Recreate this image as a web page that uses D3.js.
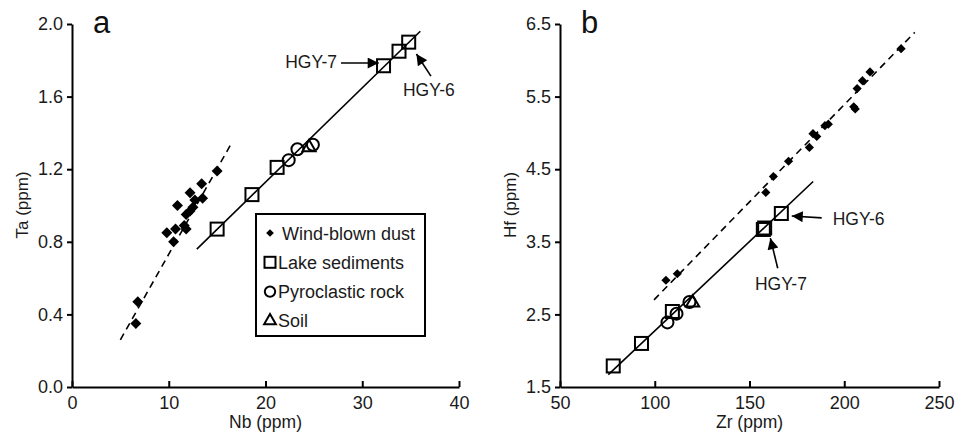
<!DOCTYPE html>
<html><head><meta charset="utf-8">
<script src="https://cdn.jsdelivr.net/npm/d3@7"></script>
<style>
body{margin:0;background:#fff;}
svg{display:block;font-family:"Liberation Sans",Arial,Helvetica,sans-serif;}
.axis{font-family:"Liberation Sans",Arial,Helvetica,sans-serif;}
.axis path,.axis line{stroke:#000;stroke-width:2;}
.axis text{font-size:18px;fill:#1a1a1a;}
</style></head>
<body><svg id="chart" width="955" height="439"></svg>
<script>
// ---------- Panel a: Nb vs Ta ----------
const dustNbA = [6.6, 6.8, 9.8, 10.5, 10.7, 10.9, 11.6, 11.8, 11.8, 12.2, 12.5, 12.2, 12.7, 13.5, 13.4, 15.0];
const dustTaA = [0.35, 0.47, 0.85, 0.80, 0.87, 1.00, 0.89, 0.87, 0.95, 0.97, 0.99, 1.07, 1.03, 1.04, 1.12, 1.19];
const lakeNbA = [15.0, 18.6, 21.2, 32.2, 33.8, 34.8];
const lakeTaA = [0.87, 1.06, 1.21, 1.77, 1.85, 1.90];
const pyroNbA = [22.4, 23.3, 24.9];
const pyroTaA = [1.25, 1.31, 1.335];
const soilNbA = [24.5];
const soilTaA = [1.32];
const dustFitA = [[5.0, 0.26], [16.4, 1.335]];
const lakeFitA = [[12.9, 0.76], [36.0, 1.96]];
const xTicksA = [0, 10, 20, 30, 40];
const yTicksA = [0.0, 0.4, 0.8, 1.2, 1.6, 2.0];

// ---------- Panel b: Zr vs Hf ----------
const dustZrB = [105.9, 111.9, 158.6, 162.6, 170.6, 181.6, 183.5, 185.5, 189.8, 191.6, 205.0, 205.8, 206.8, 209.6, 213.6, 230.0];
const dustHfB = [2.97, 3.06, 4.18, 4.40, 4.61, 4.80, 4.99, 4.95, 5.10, 5.12, 5.36, 5.33, 5.61, 5.72, 5.84, 6.16];
const lakeZrB = [78.1, 93.0, 109.3, 157.3, 158.0, 166.8];
const lakeHfB = [1.79, 2.10, 2.54, 3.67, 3.69, 3.89];
const pyroZrB = [106.7, 111.5, 118.3];
const pyroHfB = [2.39, 2.51, 2.67];
const soilZrB = [120.0];
const soilHfB = [2.66];
const dustFitB = [[99.6, 2.70], [237.2, 6.385]];
const lakeFitB = [[75.5, 1.67], [183.6, 4.33]];
const xTicksB = [50, 100, 150, 200, 250];
const yTicksB = [1.5, 2.5, 3.5, 4.5, 5.5, 6.5];

// legend
const legendLabels = ["Wind-blown dust", "Lake sediments", "Pyroclastic rock", "Soil"];
const legendShapes = ["diamond", "square", "circle", "triangle"];

// annotations (data units): text position, arrow tail, arrow tip
const annotA = [
  {label: "HGY-7", anchor: "end",   tx: 27.4, ty: 1.755, x1: 27.8, y1: 1.785, x2: 31.7, y2: 1.785},
  {label: "HGY-6", anchor: "start", tx: 34.2, ty: 1.603, x1: 37.1, y1: 1.713, x2: 35.6, y2: 1.835}
];
const annotB = [
  {label: "HGY-6", anchor: "start", tx: 193.9, ty: 3.73,  x1: 188.1, y1: 3.83,  x2: 172.3, y2: 3.855},
  {label: "HGY-7", anchor: "start", tx: 152.9, ty: 2.836, x1: 164.9, y1: 3.135, x2: 161.0, y2: 3.55}
];

const svg = d3.select("#chart");
const defs = svg.append("defs");
defs.append("marker").attr("id","arrow").attr("viewBox","0 0 10 10")
  .attr("refX",10).attr("refY",5).attr("markerWidth",13).attr("markerHeight",11)
  .attr("markerUnits","userSpaceOnUse").attr("orient","auto")
  .append("path").attr("d","M0,0 L10,5 L0,10 Z").attr("fill","#000");

const zip = (xs, ys) => xs.map((x, i) => [x, ys[i]]);
const diamondPath = size => d3.symbol().type(d3.symbolSquare).size(size)();

function drawPanel(cfg) {
  const g = svg.append("g");
  const x = d3.scaleLinear().domain(cfg.xDomain).range(cfg.xRange);
  const y = d3.scaleLinear().domain(cfg.yDomain).range([387, 24]);

  const fmtY = d3.format(".1f");
  g.append("g").attr("class","axis").attr("transform",`translate(0,387)`)
    .call(d3.axisBottom(x).tickValues(cfg.xTicks).tickSize(-6).tickSizeOuter(0).tickPadding(9).tickFormat(d3.format("d")));
  g.append("g").attr("class","axis").attr("transform",`translate(${cfg.xRange[0]},0)`)
    .call(d3.axisLeft(y).tickValues(cfg.yTicks).tickSize(5).tickSizeOuter(0).tickPadding(4).tickFormat(fmtY));
  g.selectAll(".axis").attr("font-family",null).attr("font-size",null);

  // axis titles
  g.append("text").attr("x",(cfg.xRange[0]+cfg.xRange[1])/2).attr("y",428)
    .attr("text-anchor","middle").attr("font-size",17.5).attr("fill","#1a1a1a").text(cfg.xTitle);
  g.append("text").attr("transform",`translate(${cfg.xRange[0]-44},205) rotate(-90)`)
    .attr("text-anchor","middle").attr("font-size",17).attr("fill","#1a1a1a").text(cfg.yTitle);
  // panel letter
  g.append("text").attr("x",cfg.xRange[0]+21).attr("y",33).attr("font-size",31).attr("fill","#111").text(cfg.letter);

  const line = d3.line().x(d => x(d[0])).y(d => y(d[1]));
  g.append("path").datum(cfg.dustFit).attr("d",line).attr("stroke","#000").attr("stroke-width",1.6)
    .attr("stroke-dasharray","7,5").attr("fill","none");
  g.append("path").datum(cfg.lakeFit).attr("d",line).attr("stroke","#000").attr("stroke-width",1.6).attr("fill","none");

  // dust diamonds (squares rotated 45deg)
  g.selectAll(".dust").data(cfg.dust).join("path")
    .attr("transform", d => `translate(${x(d[0])},${y(d[1])}) rotate(45)`)
    .attr("d", diamondPath(cfg.diamondSize))
    .attr("fill","#000");
  // lake squares
  g.selectAll(".lake").data(cfg.lake).join("rect")
    .attr("x", d => x(d[0]) - 6.5).attr("y", d => y(d[1]) - 6.5)
    .attr("width",13).attr("height",13).attr("fill","none").attr("stroke","#000").attr("stroke-width",2);
  // pyro circles
  g.selectAll(".pyro").data(cfg.pyro).join("circle")
    .attr("cx", d => x(d[0])).attr("cy", d => y(d[1])).attr("r",6)
    .attr("fill","none").attr("stroke","#000").attr("stroke-width",2);
  // soil triangles
  g.selectAll(".soil").data(cfg.soil).join("path")
    .attr("transform", d => `translate(${x(d[0])},${y(d[1])})`)
    .attr("d", d3.symbol().type(d3.symbolTriangle).size(75)())
    .attr("fill","none").attr("stroke","#000").attr("stroke-width",2);

  // annotations
  cfg.annot.forEach(a => {
    g.append("text").attr("x",x(a.tx)).attr("y",y(a.ty)).attr("text-anchor",a.anchor)
      .attr("font-size",17.5).attr("fill","#1a1a1a").text(a.label);
    g.append("line").attr("x1",x(a.x1)).attr("y1",y(a.y1)).attr("x2",x(a.x2)).attr("y2",y(a.y2))
      .attr("stroke","#000").attr("stroke-width",1.6).attr("marker-end","url(#arrow)");
  });
  return {g, x, y};
}

const pa = drawPanel({
  xDomain:[0,40], xRange:[72,459], yDomain:[0,2], xTicks:xTicksA, yTicks:yTicksA,
  xTitle:"Nb (ppm)", yTitle:"Ta (ppm)", letter:"a",
  dust:zip(dustNbA,dustTaA), lake:zip(lakeNbA,lakeTaA), pyro:zip(pyroNbA,pyroTaA), soil:zip(soilNbA,soilTaA),
  dustFit:dustFitA, lakeFit:lakeFitA, annot:annotA, diamondSize:60
});
const pb = drawPanel({
  xDomain:[50,250], xRange:[560,939], yDomain:[1.5,6.5], xTicks:xTicksB, yTicks:yTicksB,
  xTitle:"Zr (ppm)", yTitle:"Hf (ppm)", letter:"b",
  dust:zip(dustZrB,dustHfB), lake:zip(lakeZrB,lakeHfB), pyro:zip(pyroZrB,pyroHfB), soil:zip(soilZrB,soilHfB),
  dustFit:dustFitB, lakeFit:lakeFitB, annot:annotB, diamondSize:42
});

// legend (panel a)
const lg = pa.g.append("g").attr("transform","translate(256,214)");
lg.append("rect").attr("width",169).attr("height",122).attr("fill","#fff").attr("stroke","#000").attr("stroke-width",2);
legendLabels.forEach((lab, i) => {
  const cy = 19 + i * 29.3;
  const s = legendShapes[i];
  const item = lg.append("g").attr("transform",`translate(14,${cy})`);
  if (s === "diamond") item.append("path").attr("transform","rotate(45)").attr("d", diamondPath(30)).attr("fill","#000");
  if (s === "square") item.append("rect").attr("x",-5.5).attr("y",-5.5).attr("width",11).attr("height",11).attr("fill","none").attr("stroke","#000").attr("stroke-width",2);
  if (s === "circle") item.append("circle").attr("r",5.2).attr("fill","none").attr("stroke","#000").attr("stroke-width",2);
  if (s === "triangle") item.append("path").attr("d", d3.symbol().type(d3.symbolTriangle).size(60)()).attr("fill","none").attr("stroke","#000").attr("stroke-width",2);
  lg.append("text").attr("x", s === "diamond" ? 26 : 22).attr("y", cy + 6.5)
    .attr("font-size",18).attr("fill","#1a1a1a").text(lab);
});
</script></body></html>
